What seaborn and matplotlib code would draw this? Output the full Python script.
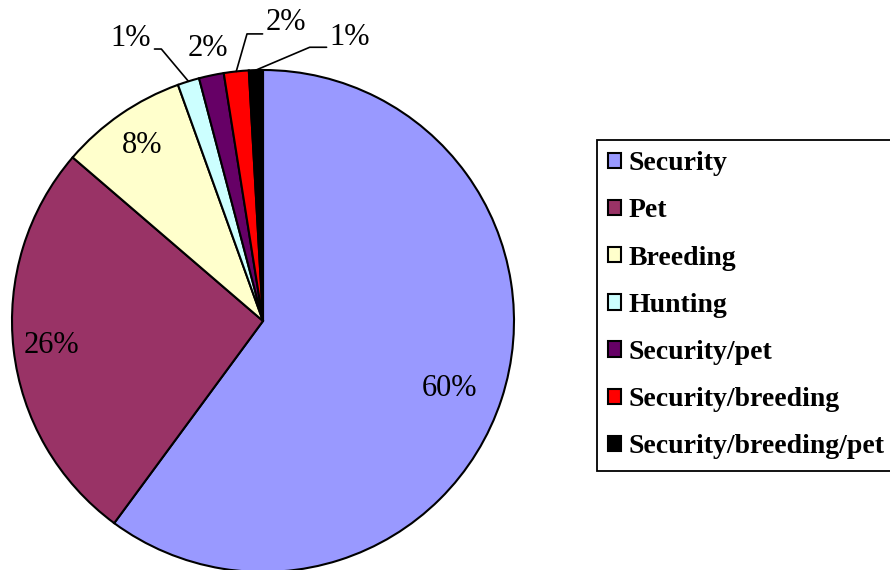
import numpy as np
import matplotlib
matplotlib.use("Agg")
import matplotlib.pyplot as plt
import seaborn as sns

# data
uses = ["Security", "Pet", "Breeding", "Hunting", "Security/pet",
        "Security/breeding", "Security/breeding/pet"]
shares = [60.1, 26.2, 8.2, 1.4, 1.6, 1.6, 0.9]
colors = ["#9999FF", "#993366", "#FFFFCC", "#CCFFFF", "#660066", "#FF0000", "#000000"]

sns.set_theme(style="white")
plt.rcParams["font.family"] = ["Liberation Serif", "DejaVu Serif"]
plt.rcParams["text.color"] = "black"

fig = plt.figure(figsize=(8.9, 5.7), dpi=100)
ax = fig.add_axes([12 / 890, -2 / 570, 502 / 890, 502 / 570])

small = 5  # below this the label goes outside the pie


def big_pct(p):
    return "%.0f%%" % p if p >= small else ""


wedges, texts, autotexts = ax.pie(
    shares, colors=colors, startangle=90, counterclock=False,
    autopct=big_pct, pctdistance=0.85,
    wedgeprops=dict(edgecolor="black", linewidth=1.5),
    textprops=dict(fontsize=22, color="black"))
autotexts[0].set_position((0.79 * np.cos(np.deg2rad(-20)), 0.79 * np.sin(np.deg2rad(-20))))

ax.set_xlim(-1, 1)
ax.set_ylim(-1, 1)
ax.axis("off")

# outside labels for the thin slices: text position, leader angle, relpos
outside = {
    3: ((-0.526, 1.124), 130, (1.0, 0.15)),
    4: ((-0.219, 1.084), None, None),
    5: ((0.092, 1.19), 74, (0.0, 0.1)),
    6: ((0.347, 1.131), 23, (0.0, 0.15)),
}
for i, (pos, angB, rel) in outside.items():
    w = wedges[i]
    mid = np.deg2rad((w.theta1 + w.theta2) / 2)
    tip = (np.cos(mid), np.sin(mid))
    label = "%.0f%%" % shares[i]
    if angB is None:
        ax.text(pos[0], pos[1], label, ha="center", va="center", fontsize=22, color="black")
    else:
        ax.annotate(label, xy=tip, xytext=pos, ha="center", va="center", fontsize=22,
                    color="black",
                    arrowprops=dict(arrowstyle="-", color="black", lw=1.2,
                                    shrinkA=0, shrinkB=0, relpos=rel,
                                    connectionstyle="angle,angleA=0,angleB=%d,rad=0" % angB))

leg = ax.legend(wedges, uses, loc="upper left",
                bbox_to_anchor=(597 / 890, 1 - 140 / 570), bbox_transform=fig.transFigure,
                prop=dict(family="Liberation Serif", weight="bold", size=20),
                handlelength=0.47, handleheight=0.47, handletextpad=0.25,
                labelspacing=0.8, borderpad=0.4, borderaxespad=0,
                fancybox=False, framealpha=1, edgecolor="black", labelcolor="black")
leg.get_frame().set_linewidth(1.3)

fig.savefig("out.png", dpi=100)
